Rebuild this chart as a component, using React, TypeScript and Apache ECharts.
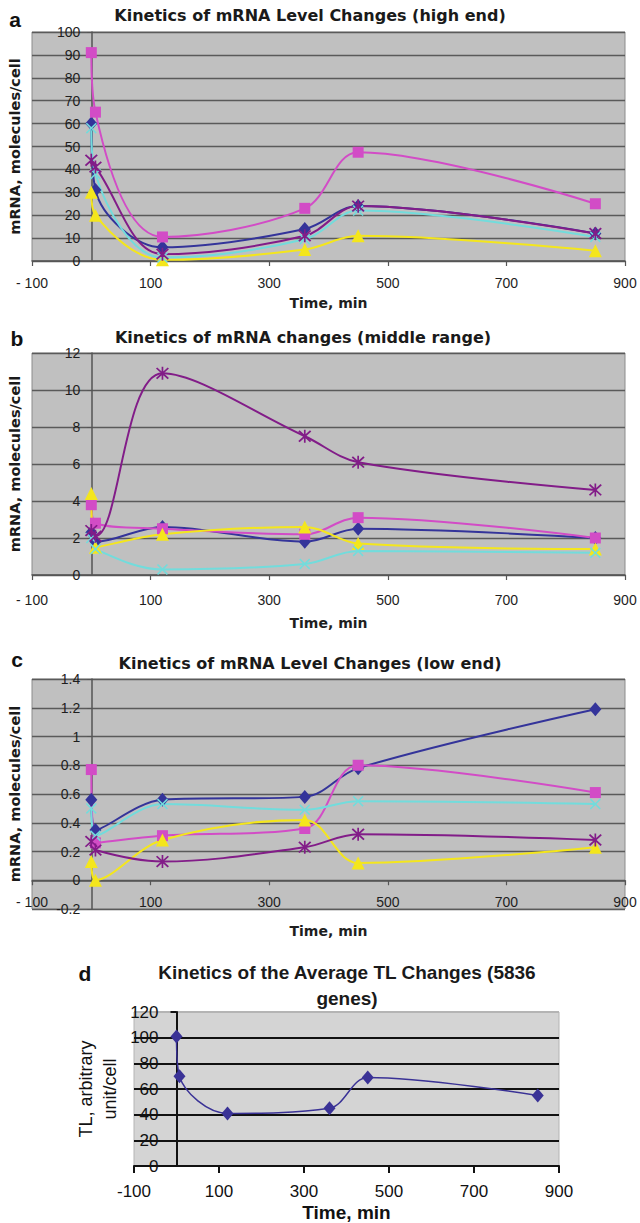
import React, { useEffect, useRef } from "react";
import * as echarts from "echarts";

// Sampling times (min)
const TIME_MIN = [0, 7, 120, 360, 450, 850];

// (a) high end, mRNA molecules/cell
const HIGH_NAVY = [60, 31, 6, 14, 24, 12];
const HIGH_MAGENTA = [91, 65, 10.5, 23, 47.5, 25];
const HIGH_YELLOW = [30, 20, 0.5, 5, 11, 4.5];
const HIGH_CYAN = [58, 38, 1.5, 9.5, 22, 10.5];
const HIGH_PURPLE = [44, 41, 3, 11, 24, 12];

// (b) middle range
const MID_NAVY = [2.3, 1.8, 2.6, 1.8, 2.5, 2.0];
const MID_MAGENTA = [3.8, 2.8, 2.5, 2.2, 3.1, 2.0];
const MID_YELLOW = [4.4, 1.5, 2.2, 2.6, 1.7, 1.4];
const MID_CYAN = [2.0, 1.4, 0.3, 0.6, 1.3, 1.2];
const MID_PURPLE = [2.4, 2.1, 10.9, 7.5, 6.1, 4.6];

// (c) low end
const LOW_NAVY = [0.56, 0.35, 0.56, 0.58, 0.78, 1.19];
const LOW_MAGENTA = [0.77, 0.26, 0.31, 0.36, 0.8, 0.61];
const LOW_YELLOW = [0.13, 0.0, 0.28, 0.42, 0.12, 0.23];
const LOW_CYAN = [0.5, 0.31, 0.53, 0.49, 0.55, 0.53];
const LOW_PURPLE = [0.27, 0.21, 0.13, 0.23, 0.32, 0.28];

// (d) average TL, arbitrary unit/cell
const TL_AVERAGE = [101, 70, 41, 45, 69, 55];

const PANEL_TITLES = [
  "Kinetics of mRNA Level Changes (high end)",
  "Kinetics of mRNA changes (middle range)",
  "Kinetics of mRNA Level Changes (low end)",
  "Kinetics of the Average TL Changes (5836\ngenes)",
];
const PANEL_LETTERS = ["a", "b", "c", "d"];
const X_NAME = "Time, min";
const MRNA_NAME = "mRNA, molecules/cell";
const TL_NAME = "TL, arbitrary\nunit/cell";

const X_RANGE = [-100, 900, 200];
// y ranges: [min, max, step]
const Y_RANGES = [
  [0, 100, 10],
  [0, 12, 2],
  [-0.2, 1.4, 0.2],
  [0, 120, 20],
];

const X_SYMBOL = "path://M0,1L1,0L5,4L9,0L10,1L6,5L10,9L9,10L5,6L1,10L0,9L4,5Z";
const STAR_SYMBOL =
  "path://M0,1L1,0L5,4L9,0L10,1L6,5L10,9L9,10L5,6L1,10L0,9L4,5Z M4.35,-0.5L5.65,-0.5L5.65,10.5L4.35,10.5Z";

const MARKS = [
  { color: "#34349a", symbol: "diamond", size: [12, 14] },
  { color: "#d24cc6", symbol: "rect", size: 11 },
  { color: "#f4e61c", symbol: "triangle", size: 13 },
  { color: "#72dcdc", symbol: X_SYMBOL, size: 11 },
  { color: "#821c88", symbol: STAR_SYMBOL, size: 13 },
];

const MRNA_SETS = [
  [HIGH_NAVY, HIGH_MAGENTA, HIGH_YELLOW, HIGH_CYAN, HIGH_PURPLE],
  [MID_NAVY, MID_MAGENTA, MID_YELLOW, MID_CYAN, MID_PURPLE],
  [LOW_NAVY, LOW_MAGENTA, LOW_YELLOW, LOW_CYAN, LOW_PURPLE],
];

// plot rectangles
const RECTS = [
  { left: 32, width: 593, top: 32, height: 229 },
  { left: 32, width: 593, top: 353, height: 222 },
  { left: 32, width: 593, top: 679, height: 230 },
  { left: 134, width: 425, top: 1012, height: 154 },
];
const SANS = "'Liberation Sans', Arial, sans-serif";
const WIDE = "'DejaVu Sans', sans-serif";

function fmtNum(v: number) {
  return String(Math.round(v * 100) / 100);
}

// distance from the plot's left edge to x = 0, and from its bottom edge to y = 0
function zeroOffsets(i: number) {
  const r = RECTS[i];
  const [xmn, xmx] = X_RANGE;
  const [ymn, ymx] = Y_RANGES[i];
  return {
    dx: (r.width * (0 - xmn)) / (xmx - xmn),
    dy: (r.height * (0 - ymn)) / (ymx - ymn),
  };
}

function buildOption() {
  const grid: any[] = [];
  const xAxis: any[] = [];
  const yAxis: any[] = [];
  const series: any[] = [];

  const xLabelMargin = [15, 18, 15];
  const xNameGap = [35, 41, 44];

  RECTS.forEach((r, i) => {
    const isTL = i === 3;
    grid.push({
      ...r,
      outerBoundsMode: "none",
      containLabel: false,
      show: true,
      backgroundColor: isTL ? "#d4d4d4" : "#c0c0c0",
      borderColor: isTL ? "#b4b4b4" : "#8c8c8c",
      borderWidth: 1,
    });
  });

  MRNA_GRIDS_AXES();

  function MRNA_GRIDS_AXES() {
    for (let i = 0; i < 3; i++) {
      const { dx, dy } = zeroOffsets(i);
      xAxis.push({
        type: "value",
        gridIndex: i,
        min: X_RANGE[0],
        max: X_RANGE[1],
        interval: X_RANGE[2],
        offset: -dy,
        axisLine: { show: true, onZero: false, lineStyle: { color: "#555", width: 1.5 } },
        axisTick: { show: true, length: 5, lineStyle: { color: "#555", width: 1.2 } },
        axisLabel: {
          margin: xLabelMargin[i],
          fontFamily: SANS,
          fontSize: 14,
          color: "#1e1e1e",
          formatter: (v: number) => (v === -100 ? "- 100" : String(v)),
        },
        splitLine: { show: false },
        name: X_NAME,
        nameLocation: "middle",
        nameGap: xNameGap[i],
        nameMoveOverlap: false,
        nameTextStyle: { fontFamily: WIDE, fontWeight: "bold", fontSize: 14, color: "#1e1e1e" },
      });
      const [mn, mx, st] = Y_RANGES[i];
      yAxis.push({
        type: "value",
        gridIndex: i,
        min: mn,
        max: mx,
        interval: st,
        offset: -dx,
        axisLine: { show: true, onZero: false, lineStyle: { color: "#555", width: 1.5 } },
        axisTick: { show: true, length: 4, lineStyle: { color: "#555" } },
        axisLabel: {
          margin: 11,
          fontFamily: SANS,
          fontSize: 14,
          color: "#1e1e1e",
          formatter: fmtNum,
        },
        splitLine: { show: true, lineStyle: { color: "#5a5a5a", width: 1.3 } },
        name: MRNA_NAME,
        nameLocation: "middle",
        nameGap: 69,
        nameMoveOverlap: false,
        nameTextStyle: { fontFamily: WIDE, fontWeight: "bold", fontSize: 14.5, color: "#1a1a1a" },
      });
      MRNA_SETS[i].forEach((vals, k) => {
        const m = MARKS[k];
        series.push({
          type: "line",
          xAxisIndex: i,
          yAxisIndex: i,
          data: TIME_MIN.map((t, j) => [t, vals[j]]),
          smooth: 0.35,
          symbol: m.symbol,
          symbolSize: m.size,
          lineStyle: { color: m.color, width: 2 },
          itemStyle: { color: m.color },
        });
      });
    }
  }

  // (d) TL panel
  const dOff = zeroOffsets(3);
  xAxis.push({
    type: "value",
    gridIndex: 3,
    min: X_RANGE[0],
    max: X_RANGE[1],
    interval: X_RANGE[2],
    offset: -dOff.dy,
    axisLine: { show: true, onZero: false, lineStyle: { color: "#111", width: 2 } },
    axisTick: { show: true, length: 7, lineStyle: { color: "#111", width: 2 } },
    axisLabel: { margin: 17, fontFamily: SANS, fontSize: 17, color: "#111" },
    splitLine: { show: false },
    name: X_NAME,
    nameLocation: "middle",
    nameGap: 37,
    nameMoveOverlap: false,
    nameTextStyle: { fontFamily: SANS, fontWeight: "bold", fontSize: 19, color: "#111" },
  });
  const [dmn, dmx, dst] = Y_RANGES[3];
  yAxis.push({
    type: "value",
    gridIndex: 3,
    min: dmn,
    max: dmx,
    interval: dst,
    offset: -dOff.dx,
    axisLine: { show: true, onZero: false, lineStyle: { color: "#111", width: 2 } },
    axisTick: { show: true, length: 6, lineStyle: { color: "#111", width: 2 } },
    axisLabel: { margin: 18, fontFamily: SANS, fontSize: 17, color: "#111" },
    splitLine: {
      show: true,
      lineStyle: {
        color: ["#111", "#111", "#111", "#111", "#111", "#111", "#b4b4b4"],
        width: 2,
      },
    },
    name: TL_NAME,
    nameLocation: "middle",
    nameGap: 55,
    nameMoveOverlap: false,
    nameTextStyle: { fontFamily: SANS, fontSize: 18, lineHeight: 24, color: "#111" },
  });
  series.push({
    type: "line",
    xAxisIndex: 3,
    yAxisIndex: 3,
    data: TIME_MIN.map((t, j) => [t, TL_AVERAGE[j]]),
    smooth: 0.35,
    symbol: "diamond",
    symbolSize: [12, 14],
    lineStyle: { color: "#3a3296", width: 1.5 },
    itemStyle: { color: "#3a3296" },
  });

  const letterPos = [
    [15, 19],
    [17, 338],
    [17, 659],
    [85, 973],
  ];
  const titlePos = [
    [310, 15],
    [303, 337],
    [310, 663],
    [347, 985],
  ];
  const graphic: any[] = [];
  PANEL_LETTERS.forEach((l, i) => {
    graphic.push({
      type: "text",
      x: letterPos[i][0],
      y: letterPos[i][1],
      style: {
        text: l,
        fontFamily: SANS,
        fontWeight: "bold",
        fontSize: 21,
        fill: "#111",
        align: "center",
        verticalAlign: "middle",
      },
    });
  });
  PANEL_TITLES.forEach((t, i) => {
    const isTL = i === 3;
    graphic.push({
      type: "text",
      x: titlePos[i][0],
      y: titlePos[i][1],
      style: {
        text: t,
        fontFamily: isTL ? SANS : WIDE,
        fontWeight: "bold",
        fontSize: isTL ? 19 : 16,
        lineHeight: isTL ? 26 : 18,
        fill: "#1a1a1a",
        align: "center",
        verticalAlign: "middle",
      },
    });
  });

  return {
    animation: false,
    backgroundColor: "#ffffff",
    grid,
    xAxis,
    yAxis,
    series,
    graphic,
  };
}

export default function App() {
  const ref = useRef<HTMLDivElement>(null);
  useEffect(() => {
    if (!ref.current) return;
    const chart = echarts.init(ref.current, undefined, { renderer: "svg" });
    chart.setOption(buildOption() as any);
    return () => chart.dispose();
  }, []);
  return (
    <div
      ref={ref}
      style={{ position: "absolute", left: 0, top: 0, width: 640, height: 1223, background: "#fff" }}
    />
  );
}
